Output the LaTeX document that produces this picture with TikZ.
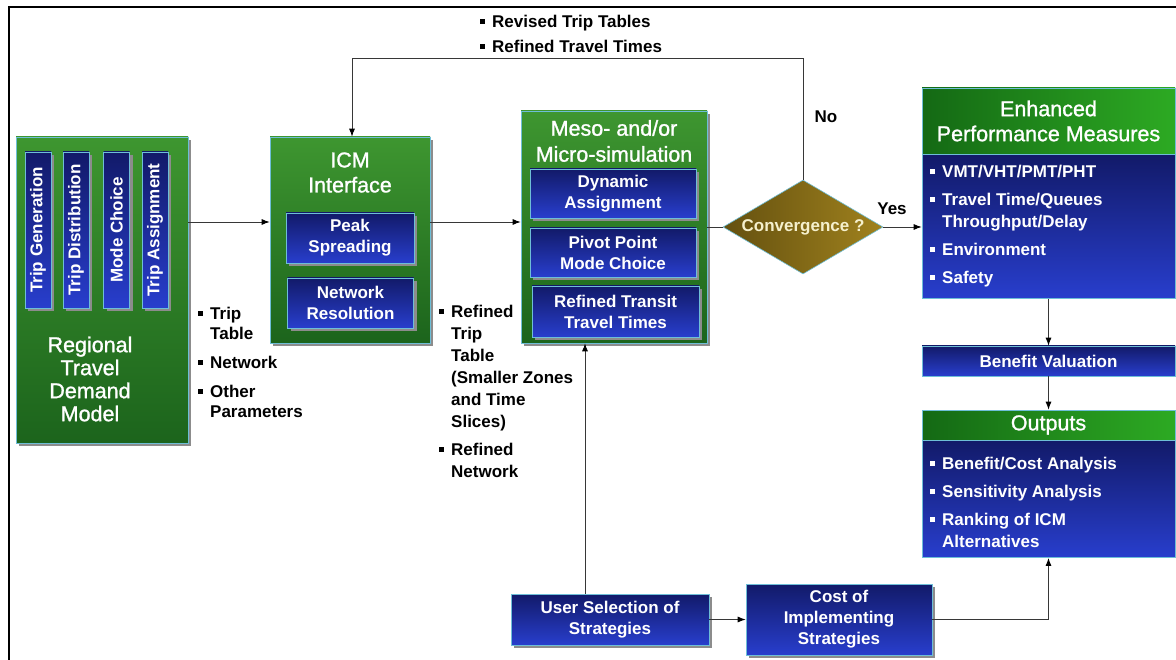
\documentclass[tikz,border=0pt]{standalone}
\usepackage{fontspec}
\setmainfont{Liberation Sans}
\newfontfamily\ttlfont[FakeBold=1.2]{Liberation Sans}
\usepackage{graphicx}
\usetikzlibrary{shapes.geometric,shadows,arrows.meta}
\definecolor{gL}{RGB}{62,150,48}
\definecolor{gD}{RGB}{28,100,28}
\definecolor{nv}{RGB}{18,26,105}
\definecolor{bl}{RGB}{40,62,205}
\definecolor{edge}{RGB}{110,190,215}
\definecolor{hdL}{RGB}{20,105,20}
\definecolor{hdR}{RGB}{45,170,35}
\definecolor{gdL}{RGB}{100,80,15}
\definecolor{gdR}{RGB}{160,130,30}
\definecolor{lncol}{RGB}{55,55,55}
\definecolor{cvt}{RGB}{245,240,205}
\newcommand\bul{\makebox[12pt][l]{\rule[0.2em]{0.27em}{0.27em}}}
\newcommand\bulind{\hspace*{12pt}}
\tikzset{
 shd/.style={drop shadow={shadow xshift=3pt,shadow yshift=-3pt,fill=black!45,opacity=1}},
 bigbox/.style={draw=edge,line width=0.6pt,top color=gL,bottom color=gD,inner sep=0pt,shd},
 bbox/.style={draw=edge,line width=0.6pt,top color=nv,bottom color=bl,inner sep=0pt,text=white,align=center,font=\fontsize{17}{21}\selectfont\bfseries},
 bboxs/.style={bbox,shd},
 vbox/.style={bboxs,minimum width=26pt,minimum height=156pt},
 ttl/.style={text=white,align=center,inner sep=0pt},
 hdr/.style={draw=edge,line width=0.6pt,left color=hdL,right color=hdR,inner sep=0pt,text=white,align=center,font=\ttlfont\fontsize{21.5}{25}\selectfont},
 wlist/.style={text=white,align=left,inner sep=0pt,anchor=west,font=\fontsize{17}{22}\selectfont\bfseries},
 blist/.style={text=black,align=left,inner sep=0pt,anchor=west},
 arr/.style={draw=lncol,line width=0.9pt,-{Latex[length=8pt,width=6pt,color=black]}},
 plainline/.style={draw=lncol,line width=0.9pt}
}
\begin{document}
\begin{tikzpicture}[x=1pt,y=-1pt]
\useasboundingbox (0,0) rectangle (1176,660);
\draw[line width=2pt] (9,660) -- (9,7.5) -- (1176,7.5);

% Regional travel demand model
\node[bigbox,minimum width=172pt,minimum height=306pt] (reg) at (102,290) {};
\node[vbox] (tg) at (38,230) {\rotatebox{90}{Trip Generation}};
\node[vbox] (td) at (76,230) {\rotatebox{90}{Trip Distribution}};
\node[vbox] (mc) at (116.5,230) {\rotatebox{90}{Mode Choice}};
\node[vbox] (ta) at (155,230) {\rotatebox{90}{Trip Assignment}};
\node[ttl,font=\ttlfont\fontsize{21.5}{23}\selectfont] (regt) at (90,379) {Regional\\Travel\\Demand\\Model};

% ICM interface
\node[bigbox,minimum width=160pt,minimum height=206pt] (icm) at (350,240) {};
\node[ttl,font=\ttlfont\fontsize{21.5}{25}\selectfont] (icmt) at (350,172.5) {ICM\\Interface};
\node[bboxs,minimum width=128pt,minimum height=50pt] (peak) at (350,238) {Peak\\Spreading};
\node[bboxs,minimum width=126pt,minimum height=50pt] (netres) at (350.5,303) {Network\\Resolution};

% Meso/micro simulation
\node[bigbox,minimum width=186pt,minimum height=232pt] (meso) at (614,227) {};
\node[ttl,font=\ttlfont\fontsize{21.5}{26}\selectfont] (mesot) at (614,141) {Meso- and/or\\Micro-simulation};
\node[bboxs,minimum width=166pt,minimum height=49pt] (dyn) at (613,193.5) {Dynamic\\Assignment};
\node[bboxs,minimum width=166pt,minimum height=49pt] (piv) at (613,252.5) {Pivot Point\\Mode Choice};
\node[bboxs,minimum width=167pt,minimum height=51pt] (rtt) at (615.5,311.5) {Refined Transit\\Travel Times};

% Convergence
\node[diamond,draw=edge,line width=0.6pt,left color=gdL,right color=gdR,minimum width=160pt,minimum height=94pt,inner sep=0pt] (conv) at (803,227) {};
\node[inner sep=0pt,text=cvt,font=\fontsize{17}{20}\selectfont\bfseries] (convt) at (conv) {Convergence ?};

% Enhanced performance measures
\node[hdr,minimum width=253pt,minimum height=66pt] (enh) at (1048.5,121) {Enhanced\\Performance Measures};
\node[bbox,minimum width=253pt,minimum height=144pt,anchor=north] (enhb) at (enh.south) {};
\node[wlist] (enhl) at (930,226) {\bul VMT/VHT/PMT/PHT\\[6pt]\bul Travel Time/Queues\\\bulind Throughput/Delay\\[6pt]\bul Environment\\[6pt]\bul Safety};

% Benefit valuation
\node[bbox,minimum width=253pt,minimum height=30pt] (ben) at (1048.5,361) {Benefit Valuation};

% Outputs
\node[hdr,minimum width=253pt,minimum height=30pt] (outh) at (1048.5,425) {Outputs};
\node[bbox,minimum width=253pt,minimum height=117pt,anchor=north] (outb) at (outh.south) {};
\node[wlist] (outl) at (930,502) {\bul Benefit/Cost Analysis\\[6pt]\bul Sensitivity Analysis\\[6pt]\bul Ranking of ICM\\\bulind Alternatives};

% Strategies
\node[bboxs,minimum width=198pt,minimum height=51pt] (user) at (610,619.5) {User Selection of\\Strategies};
\node[bboxs,minimum width=186pt,minimum height=71pt] (cost) at (839,619.5) {Cost of\\Implementing\\Strategies};

% Labels
\node[blist,font=\fontsize{17}{25}\selectfont\bfseries] (toplab) at (480,33.5) {\bul Revised Trip Tables\\\bul Refined Travel Times};
\node[blist,font=\fontsize{17}{20}\selectfont\bfseries] (inlab) at (198,362) {\bul Trip\\\bulind Table\\[9pt]\bul Network\\[9pt]\bul Other\\\bulind Parameters};
\node[blist,font=\fontsize{17}{22}\selectfont\bfseries] (rflab) at (439,391) {\bul Refined\\\bulind Trip\\\bulind Table\\\bulind (Smaller Zones\\\bulind and Time\\\bulind Slices)\\[6pt]\bul Refined\\\bulind Network};
\node[inner sep=0pt,font=\fontsize{17}{20}\selectfont\bfseries] (nolab) at (826,117) {No};
\node[inner sep=0pt,font=\fontsize{17}{20}\selectfont\bfseries] (yeslab) at (892,209) {Yes};

% Connectors
\coordinate (fbk) at (352,58);
\coordinate (uup) at (585,0);
\coordinate (flow) at (0,222);
\draw[arr] (reg.east |- flow) -- (icm.west |- flow);
\draw[arr] (icm.east |- flow) -- (meso.west |- flow);
\draw[plainline] (meso.east |- conv.west) -- (conv.west);
\draw[arr] (conv.east) -- (enhb.west |- conv.east);
\draw[arr] (conv.north) |- (fbk) -- (fbk |- icm.north);
\draw[arr] (enhb.south) -- (ben.north);
\draw[arr] (ben.south) -- (outh.north);
\draw[arr] (user.east) -- (cost.west);
\draw[arr] (user.north -| uup) -- (meso.south -| uup);
\draw[arr] (cost.east) -| (outb.south);
\end{tikzpicture}
\end{document}
